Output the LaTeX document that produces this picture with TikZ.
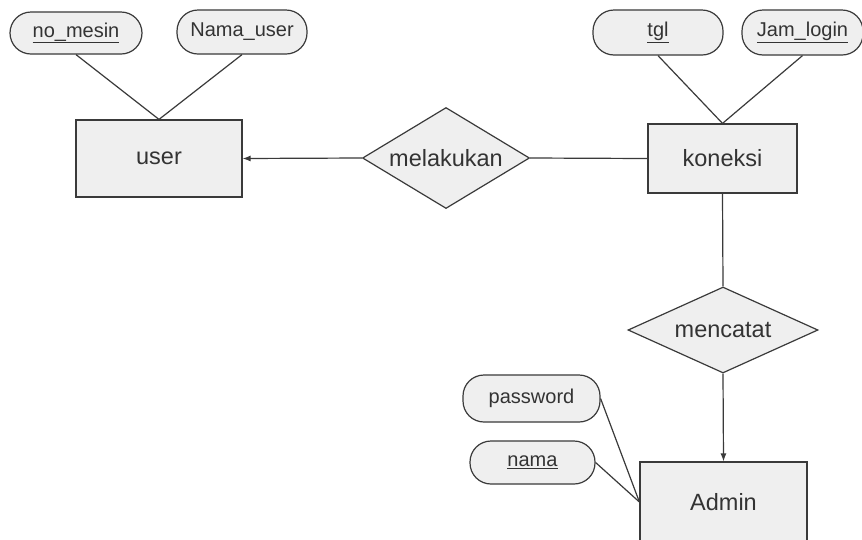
\documentclass[tikz,border=0pt]{standalone}
\usepackage{fontspec}
\setmainfont{Liberation Sans}
\usetikzlibrary{shapes.geometric,arrows.meta}
\definecolor{erfill}{HTML}{EFEFEF}
\definecolor{erline}{HTML}{3A3A3A}
\definecolor{ertext}{HTML}{333333}
\tikzset{
  entity/.style={draw=erline, fill=erfill, line width=1.2pt, rectangle,
    inner sep=0pt, text=ertext, font=\fontsize{23.5}{26}\selectfont},
  relation/.style={draw=erline, fill=erfill, line width=1.2pt, diamond,
    inner sep=0pt, text=ertext, font=\fontsize{23.5}{26}\selectfont},
  attrib/.style={draw=erline, fill=erfill, line width=1.2pt, rectangle,
    rounded corners=21pt, inner sep=0pt, text=ertext,
    font=\fontsize{20}{22}\selectfont},
  link/.style={draw=erline, line width=1.2pt},
  arrowlink/.style={link, -{Latex[length=8pt,width=6pt]}}
}
\begin{document}
\begin{tikzpicture}[x=1pt, y=-1pt]
  \useasboundingbox (0,0) rectangle (862,539);
  \clip (0,0) rectangle (862,539);
  \fill[white] (0,0) rectangle (862,539);

  % entities
  \node[entity, minimum width=166pt, minimum height=77pt] (user) at (159,158.5) {user};
  \node[entity, minimum width=149pt, minimum height=69pt] (koneksi) at (722.5,158.5) {koneksi};
  \node[entity, minimum width=167pt, minimum height=80pt] (admin) at (723.5,502) {Admin};

  % relationships
  \node[relation, aspect=1.65, minimum width=167pt, minimum height=101pt] (melakukan) at (446,158) {melakukan};
  \node[relation, aspect=2.2, minimum width=190pt, minimum height=86pt] (mencatat) at (723,330) {mencatat};

  % attributes
  \node[attrib, minimum width=132pt, minimum height=42pt] (nomesin) at (76,33) {\underline{no\_mesin}};
  \node[attrib, minimum width=130pt, minimum height=44pt] (namauser) at (242,32) {Nama\_user};
  \node[attrib, minimum width=130pt, minimum height=45pt] (tgl) at (658,32.5) {\underline{tgl}};
  \node[attrib, minimum width=121pt, minimum height=45pt] (jamlogin) at (802.5,32.5) {\underline{Jam\_login}};
  \node[attrib, minimum width=137pt, minimum height=47pt] (password) at (531.5,398.5) {password};
  \node[attrib, minimum width=125pt, minimum height=43pt] (nama) at (532.5,462.5) {\underline{nama}};

  % attribute links
  \draw[link] (nomesin.south) -- (user.north);
  \draw[link] (namauser.south) -- (user.north);
  \draw[link] (tgl.south) -- (koneksi.north);
  \draw[link] (jamlogin.south) -- (koneksi.north);
  \draw[link] (password.east) -- (admin.west);
  \draw[link] (nama.east) -- (admin.west);

  % relationship links
  \draw[arrowlink] (melakukan.west) -- (user.east);
  \draw[link] (koneksi.west) -- (melakukan.east);
  \draw[link] (koneksi.south) -- (mencatat.north);
  \draw[arrowlink] (mencatat.south) -- (admin.north);
\end{tikzpicture}
\end{document}
